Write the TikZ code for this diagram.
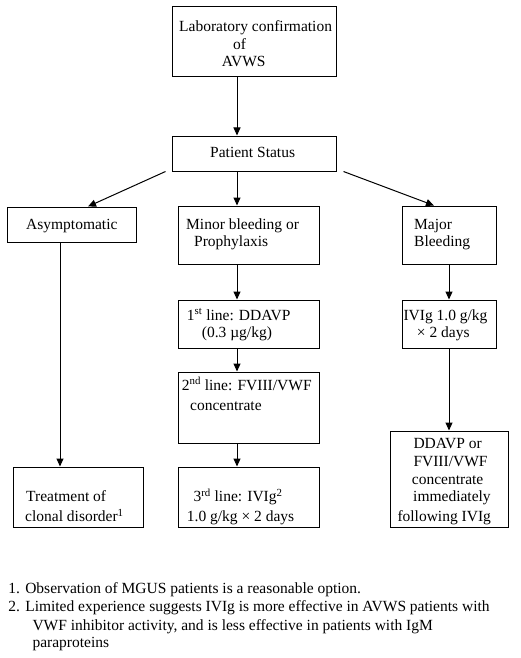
\documentclass[tikz,border=0pt]{standalone}
\usepackage{fontspec}
\setmainfont{Liberation Serif}
\usetikzlibrary{arrows.meta}
\tikzset{
  box/.style={draw, line width=1pt, inner sep=0pt, rectangle},
  txt/.style={anchor=base west, inner sep=0pt, font=\fontsize{15.5}{18}\selectfont},
  arr/.style={line width=1pt, -{Triangle[length=8pt,width=7pt]}},
  ln/.style={line width=1pt}
}
\begin{document}
\begin{tikzpicture}[x=1pt,y=-1pt]
\useasboundingbox (0,0) rectangle (520,658);
% boxes
\node[box, minimum width=164, minimum height=70] (top) at (254,42) {};
\node[box, minimum width=164, minimum height=35] (ps) at (254,153.5) {};
\node[box, minimum width=129, minimum height=35] (asym) at (71.5,224.5) {};
\node[box, minimum width=141, minimum height=58] (minor) at (248.5,235) {};
\node[box, minimum width=94, minimum height=58] (major) at (449,235) {};
\node[box, minimum width=141, minimum height=48] (first) at (248.5,324) {};
\node[box, minimum width=94, minimum height=48] (ivig) at (449,324) {};
\node[box, minimum width=141, minimum height=71] (second) at (248.5,407.5) {};
\node[box, minimum width=141, minimum height=60] (third) at (248.5,497) {};
\node[box, minimum width=130, minimum height=60] (treat) at (78,497) {};
\node[box, minimum width=118, minimum height=96] (ddavp) at (449,479) {};
% texts
\node[txt] (ta1) at (179,32) {Laboratory confirmation};
\node[txt] (ta2) at (233,49.5) {of};
\node[txt] (ta3) at (221.7,67) {AVWS};
\node[txt] (tps) at (210,157.7) {Patient Status};
\node[txt] (tasym) at (26,229.3) {Asymptomatic};
\node[txt] (tmi1) at (186,229.3) {Minor bleeding or};
\node[txt] (tmi2) at (194,246.7) {Prophylaxis};
\node[txt] (tma1) at (414,229.3) {Major};
\node[txt] (tma2) at (414,246.7) {Bleeding};
\node[txt] (tf1) at (186.7,320) {1\textsuperscript{st} line: DDAVP};
\node[txt] (tf2) at (201.7,337) {(0.3 µg/kg)};
\node[txt] (tiv1) at (403.3,320) {IVIg 1.0 g/kg};
\node[txt] (tiv2) at (416.7,337) {× 2 days};
\node[txt] (ts1) at (181.7,390) {2\textsuperscript{nd} line: FVIII/VWF};
\node[txt] (ts2) at (190,410.7) {concentrate};
\node[txt] (tt1) at (193.3,501.7) {3\textsuperscript{rd} line: IVIg\textsuperscript{2}};
\node[txt] (tt2) at (186.7,521.7) {1.0 g/kg × 2 days};
\node[txt] (tc1) at (26,501.7) {Treatment of};
\node[txt] (tc2) at (25,521.7) {clonal disorder\textsuperscript{1}};
\node[txt] (td1) at (413.3,448) {DDAVP or};
\node[txt] (td2) at (413.3,466.7) {FVIII/VWF};
\node[txt] (td3) at (411.7,484) {concentrate};
\node[txt] (td4) at (413,501.7) {immediately};
\node[txt] (td5) at (397.3,521.7) {following IVIg};
% footnotes
\node[txt] (fn1) at (8.3,593.3) {1. Observation of MGUS patients is a reasonable option.};
\node[txt] (fn2) at (8.3,611.7) {2. Limited experience suggests IVIg is more effective in AVWS patients with};
\node[txt] (fn3) at (32.3,630) {VWF inhibitor activity, and is less effective in patients with IgM};
\node[txt] (fn4) at (32.3,647.3) {paraproteins};
% arrows
\draw[arr] (top.south -| 237,0) -- (ps.north -| 237,0);
\draw[arr] ([xshift=-6pt]ps.south west) -- (asym.north -| 88,0);
\draw[arr] (ps.south -| 237,0) -- (minor.north -| 237,0);
\draw[arr] ([xshift=7pt]ps.south east) -- (major.north -| 434,0);
\draw[arr] (asym.south -| 60,0) -- (treat.north -| 60,0);
\draw[arr] (minor.south -| 237,0) -- (first.north -| 237,0);
\draw[arr] (first.south -| 237,0) -- (second.north -| 237,0);
\draw[arr] (second.south -| 237,0) -- (third.north -| 237,0);
\draw[arr] (major) -- (ivig);
\draw[arr] (ivig) -- (ddavp);
\end{tikzpicture}
\end{document}
